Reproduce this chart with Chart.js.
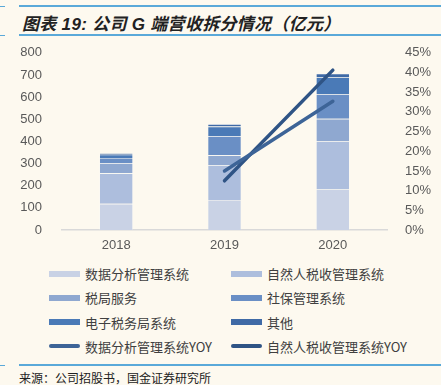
<!DOCTYPE html>
<html>
<head>
<meta charset="utf-8">
<script src="https://cdn.jsdelivr.net/npm/chart.js@4"></script>
<style>
  html, body { margin: 0; padding: 0; background: #fdf9ef; }
  body { width: 441px; height: 385px; position: relative; overflow: hidden;
    font-family: "Liberation Sans", "Noto Sans CJK SC", sans-serif; }
  .rule { position: absolute; left: 19px; right: 0; height: 2px; background: #5aa9d9; }
  .tick { position: absolute; left: 0; width: 5px; height: 1px; background: #5aa9d9; }
  #title { position: absolute; left: 22px; top: 10px; font-size: 17px; font-weight: bold;
    font-style: italic; color: #222; font-family: "Liberation Sans", "Noto Sans CJK SC", sans-serif; letter-spacing: 0.3px; }
  #chart-wrap { position: absolute; left: 0; top: 33px; width: 441px; height: 222px; }
  #legend { position: absolute; left: 0; top: 264px; width: 441px; }
  .item { position: absolute; display: flex; align-items: center; font-size: 13px; color: #404040;
    font-family: "Noto Sans CJK SC", sans-serif; white-space: nowrap; }
  .item .sw { width: 31px; height: 6px; margin-right: 5px; }
  .item .ln { width: 31px; height: 4px; border-radius: 2px; margin-right: 5px; }
  #source { position: absolute; left: 19px; top: 369px; font-size: 12px; color: #222;
    font-family: "Noto Sans CJK SC", sans-serif; }
</style>
</head>
<body>
<div class="rule" style="top:5px"></div>
<div class="tick" style="top:6px"></div>
<div id="title">图表 19:  公司 G 端营收拆分情况（亿元）</div>
<div class="rule" style="top:34px"></div>
<div class="tick" style="top:35px"></div>
<div id="chart-wrap"><canvas id="chart"></canvas></div>
<div id="legend"></div>
<div class="rule" style="top:364px"></div>
<div class="tick" style="top:365px"></div>
<div id="source">来源：公司招股书，国金证券研究所</div>
<script>
const years = ['2018', '2019', '2020'];
const dataAnalysis = [118, 136, 183];
const personalTax = [138, 157, 218];
const taxService = [46, 44, 101];
const socialSecurity = [23, 87, 111];
const eTaxBureau = [15, 43, 76];
const others = [7, 11, 17];
const dataAnalysisYoy = [null, 15, 32.7];
const personalTaxYoy = [null, 12.5, 40.6];
const leftTicks = [0, 100, 200, 300, 400, 500, 600, 700, 800];
const rightTicks = [0, 5, 10, 15, 20, 25, 30, 35, 40, 45];

const barSeries = [
  { label: '数据分析管理系统', data: dataAnalysis, color: '#c9d2e5' },
  { label: '自然人税收管理系统', data: personalTax, color: '#adbedd' },
  { label: '税局服务', data: taxService, color: '#8fa8d0' },
  { label: '社保管理系统', data: socialSecurity, color: '#6a8fc5' },
  { label: '电子税务局系统', data: eTaxBureau, color: '#4a7ab7' },
  { label: '其他', data: others, color: '#3f6aa6' },
];
const lineSeries = [
  { label: '数据分析管理系统YOY', data: dataAnalysisYoy, color: '#3d6497' },
  { label: '自然人税收管理系统YOY', data: personalTaxYoy, color: '#2f5485' },
];

const datasets = [];
lineSeries.forEach((s) => {
  datasets.push({
    type: 'line', label: s.label, data: s.data, yAxisID: 'y1',
    borderColor: s.color, backgroundColor: s.color, borderWidth: 3.5,
    borderCapStyle: 'round', pointRadius: 0, tension: 0, order: 0,
  });
});
barSeries.forEach((s) => {
  datasets.push({
    type: 'bar', label: s.label, data: s.data, yAxisID: 'y',
    backgroundColor: s.color, borderColor: 'rgba(255,255,255,0.45)', borderWidth: 0.6,
    barPercentage: 0.31, categoryPercentage: 1, order: 1,
  });
});

const tickFont = { family: '"Liberation Sans", Arial, sans-serif', size: 13 };
new Chart(document.getElementById('chart'), {
  data: { labels: years, datasets },
  options: {
    responsive: true, maintainAspectRatio: false, animation: false,
    layout: { padding: { top: 3, bottom: 0, left: 0, right: 0 } },
    plugins: { legend: { display: false }, tooltip: { enabled: false } },
    scales: {
      x: {
        stacked: true,
        grid: { display: false, drawTicks: false },
        border: { color: '#d9d9d9', width: 1.5 },
        afterFit: (s) => { s.height = 25; },
        ticks: { color: '#595959', font: tickFont, padding: 8 },
      },
      y: {
        stacked: true, min: 0, max: 800, position: 'left',
        afterBuildTicks: (s) => { s.ticks = leftTicks.map((v) => ({ value: v })); },
        afterFit: (s) => { s.width = 62; },
        grid: { display: false }, border: { display: false },
        ticks: { color: '#595959', font: tickFont, padding: 12, autoSkip: false },
      },
      y1: {
        stacked: false, min: 0, max: 45, position: 'right',
        afterBuildTicks: (s) => { s.ticks = rightTicks.map((v) => ({ value: v })); },
        afterFit: (s) => { s.width = 54; },
        grid: { display: false }, border: { display: false },
        ticks: { color: '#595959', font: tickFont, padding: 10, autoSkip: false, callback: (v) => v + '%' },
      },
    },
  },
});

const legend = document.getElementById('legend');
const legendItems = barSeries.map((s) => ({ ...s, kind: 'sw' }))
  .concat(lineSeries.map((s) => ({ ...s, kind: 'ln' })));
legendItems.forEach((s, i) => {
  const div = document.createElement('div');
  div.className = 'item';
  div.style.left = (i % 2 === 0 ? 49 : 231) + 'px';
  div.style.top = (Math.floor(i / 2) * 24.3) + 'px';
  div.innerHTML = `<span class="${s.kind}" style="background:${s.color}"></span><span>${s.label}</span>`;
  legend.appendChild(div);
});
</script>
</body>
</html>
